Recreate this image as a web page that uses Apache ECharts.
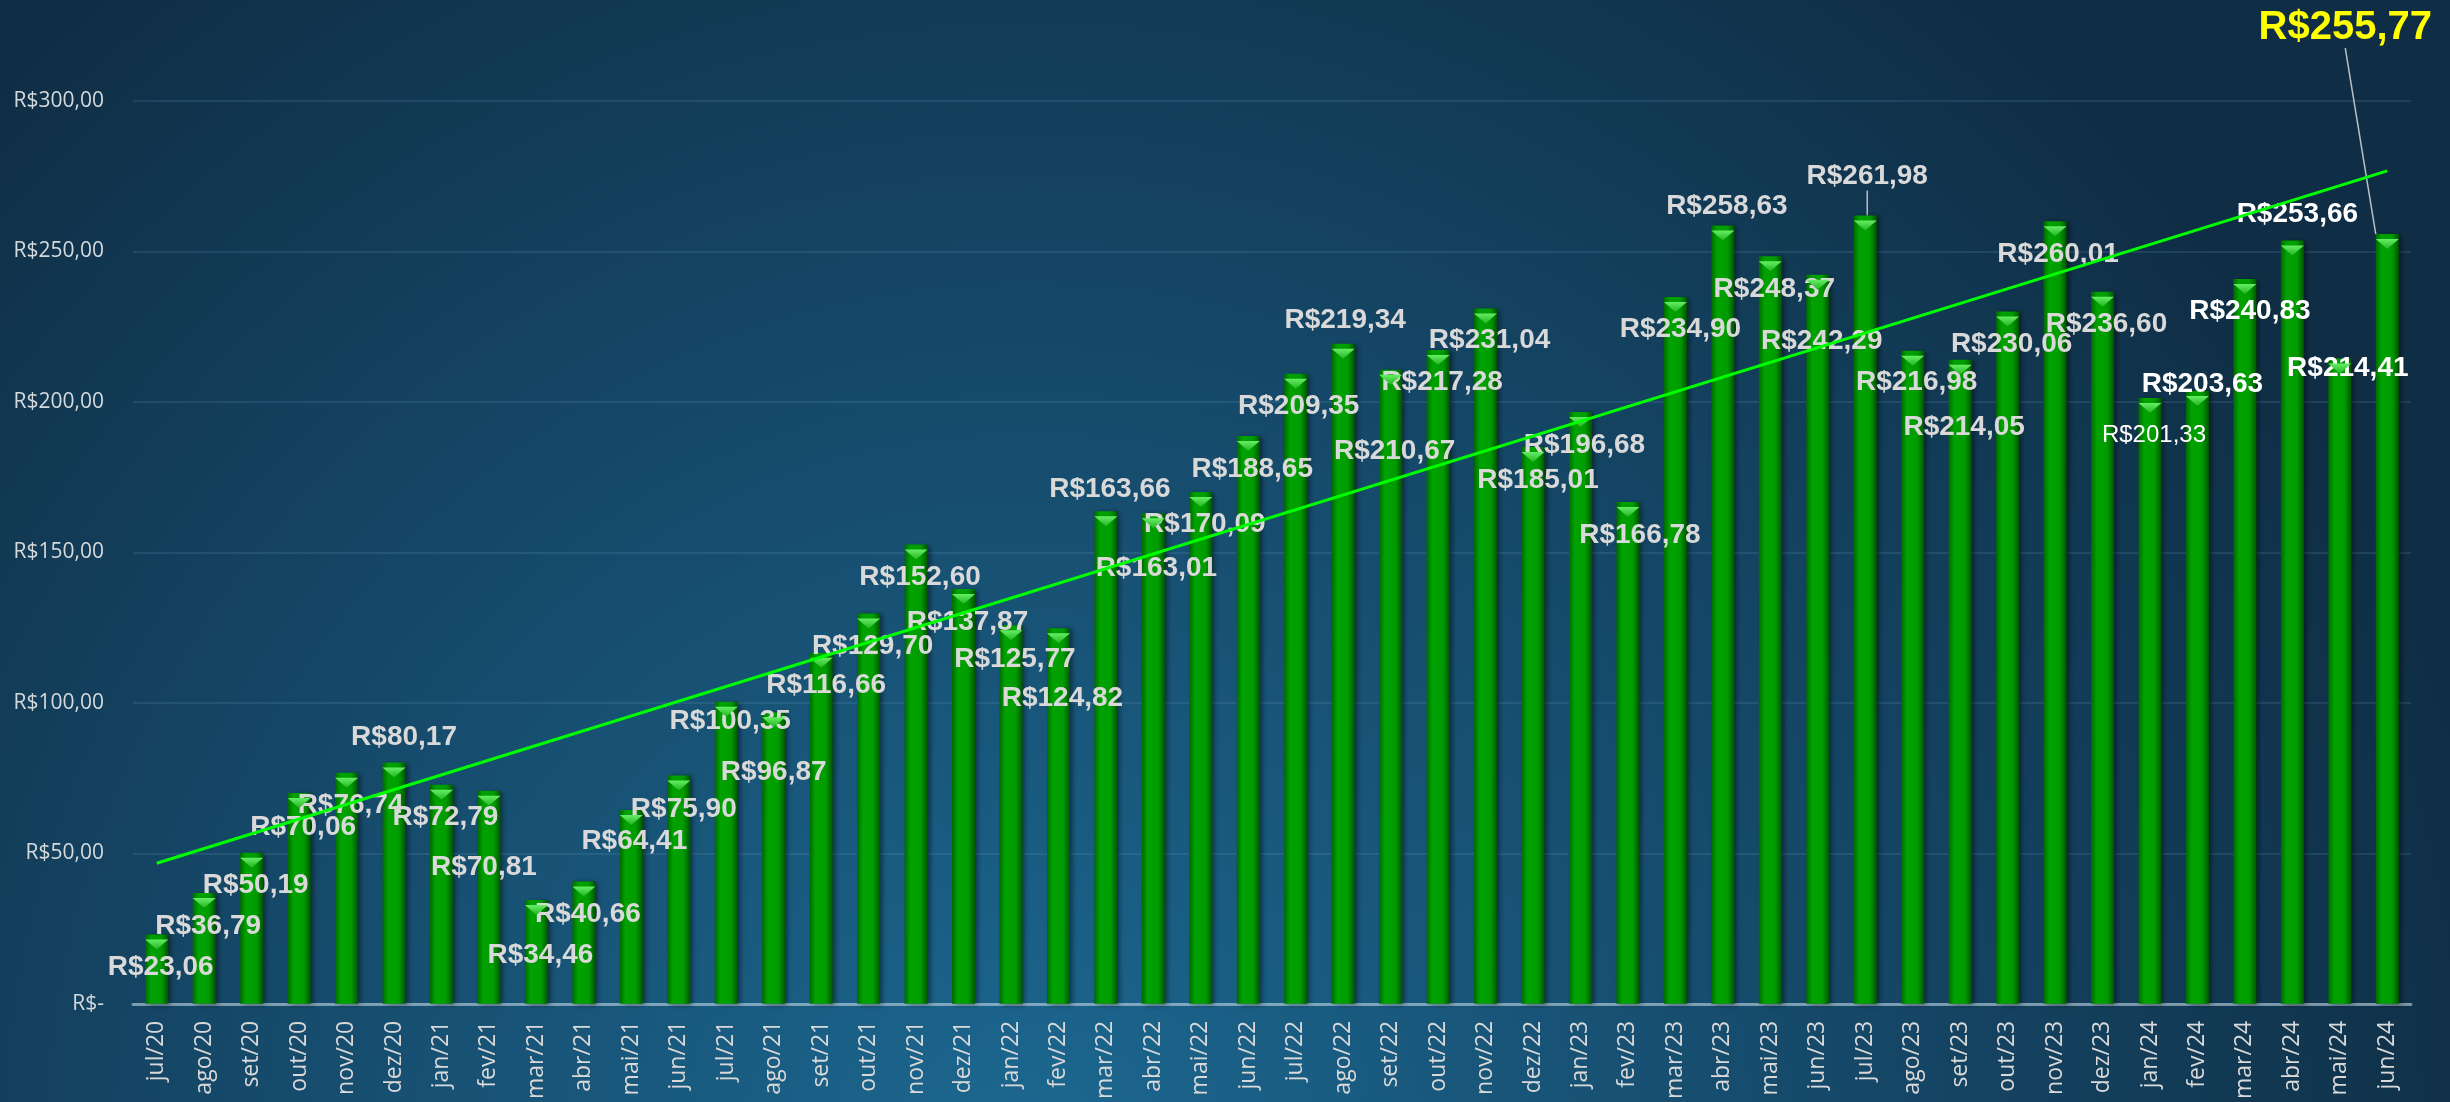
<!DOCTYPE html>
<html><head><meta charset="utf-8">
<script src="https://cdn.jsdelivr.net/npm/echarts@6/dist/echarts.min.js"></script>
<style>html,body{margin:0;padding:0;background:#12384f;overflow:hidden}#c{width:2450px;height:1102px;}</style>
</head><body><div id="c"></div>
<script>
const categories = ['jul/20','ago/20','set/20','out/20','nov/20','dez/20','jan/21','fev/21','mar/21','abr/21','mai/21','jun/21',
  'jul/21','ago/21','set/21','out/21','nov/21','dez/21','jan/22','fev/22','mar/22','abr/22','mai/22','jun/22',
  'jul/22','ago/22','set/22','out/22','nov/22','dez/22','jan/23','fev/23','mar/23','abr/23','mai/23','jun/23',
  'jul/23','ago/23','set/23','out/23','nov/23','dez/23','jan/24','fev/24','mar/24','abr/24','mai/24','jun/24'];
const values = [23.06,36.79,50.19,70.06,76.74,80.17,72.79,70.81,34.46,40.66,64.41,75.90,
  100.35,96.87,116.66,129.70,152.60,137.87,125.77,124.82,163.66,163.01,170.09,188.65,
  209.35,219.34,210.67,217.28,231.04,185.01,196.68,166.78,234.90,258.63,248.37,242.29,
  261.98,216.98,214.05,230.06,260.01,236.60,201.33,203.63,240.83,253.66,214.41,255.77];
// trend line end values (first and last month)
const trendValues = [46.7, 276.8];
const yTicks = {min: 0, max: 300, interval: 50};

// label placement (pixels, relative to bar top centre)
const labelOffsets = [[4,33],[4,33],[4,33],[4,34],[4,32],[10,-25],[4,33],[-5,77],[4,55],[4,33],[3,31],[5,34],
  [4,19],[0,60],[5,33],[4,33],[4,33],[4,33],[4,34],[4,70],[4,-22],[3,55],[4,32],[4,33],
  [3,32],[2,-23],[4,81],[4,32],[4,32],[5,33],[4,33],[12,33],[5,32],[4,-19],[4,33],[4,67],
  [2,-39],[4,31],[4,68],[4,33],[3,33],[4,32],[4,37],[5,-7],[5,32],[5,-26],[8,10],[-42,-206]];

const fmt = v => 'R$' + v.toFixed(2).replace('.', ',');

const barData = values.map((v, i) => {
  const item = {value: v, label: {offset: labelOffsets[i]}};
  if (i >= 42 && i <= 46) item.label.color = '#ffffff';
  if (i === 42) { item.label.fontWeight = 'normal'; item.label.fontSize = 24; }
  if (i === 47) { item.label.color = '#ffff00'; item.label.fontSize = 40; }
  if (i === 36 || i === 47) item.labelLine = {show: true, lineStyle: {color: '#b8c0c4', width: 1.5}};
  return item;
});

const chart = echarts.init(document.getElementById('c'), null, {renderer: 'canvas'});
chart.setOption({
  animation: false,
  backgroundColor: {type: 'radial', x: 0.42, y: 1.05, r: 1.35, colorStops: [
    {offset: 0, color: '#1c6891'}, {offset: 0.5, color: '#164b6c'}, {offset: 1, color: '#0f2e45'}]},
  grid: {left: 133, right: 39, top: 101, bottom: 95, containLabel: false},
  xAxis: {
    type: 'category', data: categories,
    axisTick: {show: false},
    axisLine: {show: true, lineStyle: {color: 'rgba(200,220,230,0.55)', width: 3}},
    axisLabel: {interval: 0, rotate: 90, margin: 17, color: '#d9d9d9', fontSize: 23, fontFamily: 'Open Sans'}
  },
  yAxis: {
    type: 'value', min: yTicks.min, max: yTicks.max, interval: yTicks.interval,
    axisLine: {show: false}, axisTick: {show: false},
    splitLine: {lineStyle: {color: 'rgba(120,170,200,0.22)', width: 1.5}},
    axisLabel: {margin: 29, color: '#d4d9dc', fontSize: 21, fontFamily: 'Open Sans',
      formatter: v => v === 0 ? 'R$-' : fmt(v)}
  },
  series: [
    {
      type: 'bar', data: barData, barWidth: 23, z: 2,
      itemStyle: {
        color: {type: 'linear', x: 0, y: 0, x2: 1, y2: 0, colorStops: [
          {offset: 0, color: '#006a00'}, {offset: 0.25, color: '#00a200'}, {offset: 0.7, color: '#009c00'}, {offset: 1, color: '#005500'}]},
        shadowColor: 'rgba(0,0,0,0.45)', shadowBlur: 5, shadowOffsetX: 3, shadowOffsetY: 1
      },
      label: {
        show: true, position: ['50%', 0], align: 'center', verticalAlign: 'middle',
        fontFamily: 'Liberation Sans', fontWeight: 'bold', fontSize: 28, color: '#d9d9d9',
        formatter: p => fmt(p.value)
      },
      labelLine: {show: false}
    },
    {
      type: 'pictorialBar', data: values, z: 2.5, silent: true,
      symbol: 'path://M0,0 L20,0 L10,9 Z', symbolSize: [23, 10], symbolPosition: 'end', symbolOffset: [0, '50%'],
      itemStyle: {color: {type: 'linear', x: 0, y: 0, x2: 0, y2: 1, colorStops: [
        {offset: 0, color: '#66ee66'}, {offset: 1, color: '#22b422'}]}}
    },
    {
      type: 'line', z: 4, silent: true, symbol: 'none',
      data: [[0, trendValues[0]], [categories.length - 1, trendValues[1]]],
      lineStyle: {color: '#00ff00', width: 3}
    }
  ]
});
</script></body></html>
